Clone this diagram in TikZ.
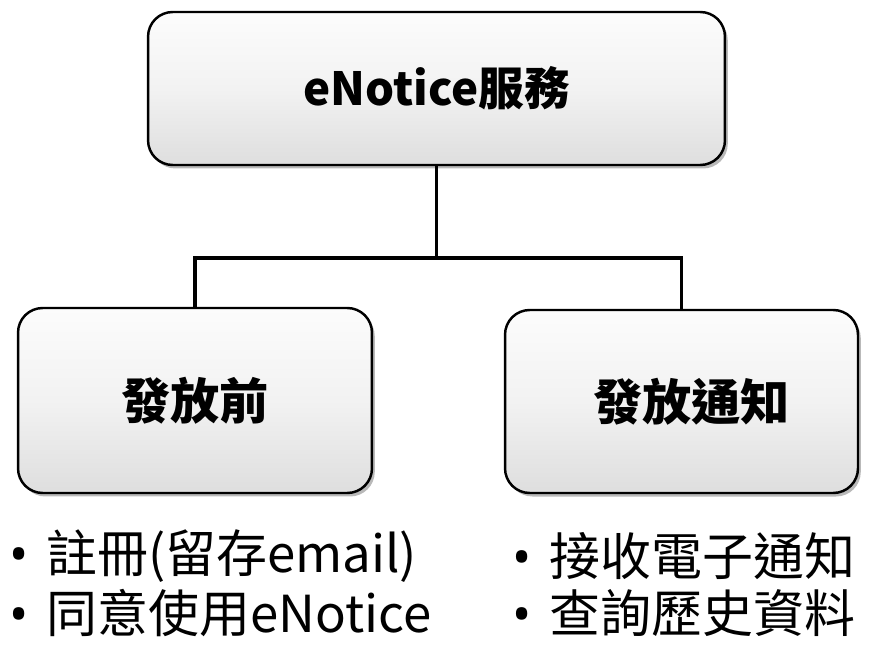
\documentclass[tikz,border=0pt]{standalone}
\usepackage{fontspec}
\setmainfont{Noto Sans CJK TC}
\newfontfamily\latinsans{Noto Sans}
\usetikzlibrary{positioning,shadows}
\definecolor{boxgray}{RGB}{242,242,242}
\definecolor{boxtop}{RGB}{252,252,252}
\definecolor{boxbot}{RGB}{222,222,222}
\newcommand{\itemdot}{\makebox[21pt][l]{\latinsans •}}
\begin{document}
\begin{tikzpicture}[x=0.02cm,y=0.02cm,
  svcbox/.style={draw=black,line width=1.4pt,rounded corners=14pt,
    top color=boxtop,bottom color=boxbot,middle color=boxgray,
    drop shadow={shadow xshift=1.6pt,shadow yshift=-2pt,opacity=0.55},
    inner sep=0pt,align=center,font=\bfseries},
  link/.style={draw=black,line width=2pt},
  item/.style={anchor=west,inner sep=0pt,font=\fontsize{29}{34}\selectfont}]
\useasboundingbox (0,0) rectangle (871,-648);
\node [svcbox,minimum width=11.54cm,minimum height=3.06cm,font=\bfseries\fontsize{26}{30}\selectfont] (service) at (436.5,-88.5) {eNotice服務};
\node [svcbox,minimum width=7.08cm,minimum height=3.7cm,font=\bfseries\fontsize{28}{32}\selectfont] (before) at (195,-400.5) {發放前};
\node [svcbox,minimum width=7.06cm,minimum height=3.66cm,font=\bfseries\fontsize{28}{32}\selectfont] (notify) at (681.5,-401.5) {\hspace{0.4cm}發放通知};
\coordinate (fork) at (436.5,-258);
\draw [link] (service.south) -- (fork);
\draw [link] (before.north) |- (fork) -| (notify.north);
\node [item] (reg) at (9,-556) {\itemdot 註冊(留存email)};
\node [item] (agree) at (9,-613) {\itemdot 同意使用eNotice};
\node [item] (recv) at (512,-556) {\itemdot 接收電子通知};
\node [item] (query) at (512,-613) {\itemdot 查詢歷史資料};
\end{tikzpicture}
\end{document}
